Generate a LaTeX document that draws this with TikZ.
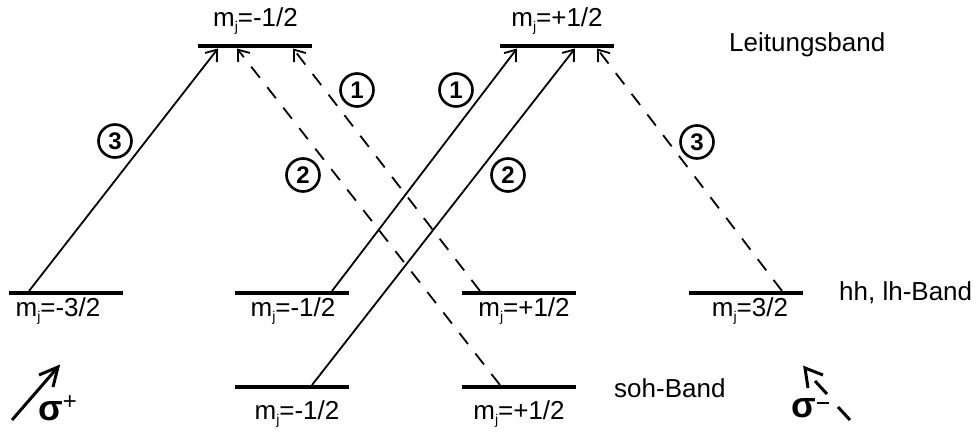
\documentclass[tikz,border=0pt]{standalone}
\usepackage{fontspec}
\setmainfont{Liberation Sans}
\usetikzlibrary{arrows.meta}
\newcommand{\mjlab}[1]{m\raisebox{-5pt}{\fontsize{14}{14}\selectfont j}#1}
\begin{document}
\begin{tikzpicture}[x=1pt,y=-1pt,
  levbox/.style={rectangle, fill=black, minimum width=114pt, minimum height=4.5pt, inner sep=0pt, outer sep=0pt},
  tr/.style={line width=1.8pt, -{Straight Barb[length=10pt,width=15pt,line width=1.8pt]}},
  dsh/.style={dash pattern=on 14pt off 12pt},
  lbl/.style={font=\fontsize{26}{26}\selectfont, inner sep=0pt},
  num/.style={circle, draw, line width=2.6pt, minimum size=33pt, inner sep=0pt, font=\fontsize{24}{24}\selectfont\bfseries},
  pol/.style={line width=3pt, line join=miter}]
\useasboundingbox (0,0) rectangle (978,434);
% levels
\node[levbox] (cbL) at (255,46) {};
\node[levbox] (cbR) at (556.5,46) {};
\node[levbox] (hh1) at (66,293) {};
\node[levbox] (hh2) at (291.5,293) {};
\node[levbox] (hh3) at (518.5,293) {};
\node[levbox] (hh4) at (746,293) {};
\node[levbox] (so1) at (291.5,387) {};
\node[levbox] (so2) at (518.5,387) {};
% level labels
\node[lbl] (tcbL) at (255.5,21) {\mjlab{=-1/2}};
\node[lbl] (tcbR) at (557,21) {\mjlab{=+1/2}};
\node[lbl] (thh1) at (58,311) {\mjlab{=-3/2}};
\node[lbl] (thh2) at (293,311) {\mjlab{=-1/2}};
\node[lbl] (thh3) at (524,311) {\mjlab{=+1/2}};
\node[lbl] (thh4) at (750,311) {\mjlab{=3/2}};
\node[lbl] (tso1) at (297,414) {\mjlab{=-1/2}};
\node[lbl] (tso2) at (519,414) {\mjlab{=+1/2}};
% band names
\node[lbl, anchor=west] (nLB) at (729,45) {Leitungsband};
\node[lbl, anchor=west] (nHH) at (839,293) {hh, lh-Band};
\node[lbl, anchor=west] (nSO) at (614,388) {soh-Band};
% transition endpoints
\coordinate (a3s) at (29,291);   \coordinate (a3e) at (218,48.5);
\coordinate (d1s) at (480,291);  \coordinate (d1e) at (293,48.5);
\coordinate (d2s) at (500,385);  \coordinate (d2e) at (237,48.5);
\coordinate (a1s) at (332,291);  \coordinate (a1e) at (517,48.5);
\coordinate (a2s) at (312,385);  \coordinate (a2e) at (575,48.5);
\coordinate (d3s) at (782,291);  \coordinate (d3e) at (597,48.5);
\draw[tr] (a3s) -- (a3e);
\draw[tr, dsh] (d1s) -- (d1e);
\draw[tr, dsh] (d2s) -- (d2e);
\draw[tr] (a1s) -- (a1e);
\draw[tr] (a2s) -- (a2e);
\draw[tr, dsh] (d3s) -- (d3e);
% circled numbers
\node[num] (n3L) at (115,141) {3};
\node[num] (n1a) at (357,90) {1};
\node[num] (n1b) at (456,90) {1};
\node[num] (n2a) at (303,175) {2};
\node[num] (n2b) at (508,175) {2};
\node[num] (n3R) at (697,142) {3};
% polarisation sigma+
\coordinate (pps) at (12,420); \coordinate (ppe) at (58,367);
\coordinate (ppb1) at (39,375); \coordinate (ppb2) at (53,387);
\draw[pol] (pps) -- (ppe);
\draw[pol] (ppb1) -- (ppe) -- (ppb2);
\node[inner sep=0pt, font=\fontsize{36}{36}\selectfont\bfseries] (sp) at (51,411) {σ};
\node[inner sep=0pt, font=\fontsize{24}{24}\selectfont] (spp) at (70,403) {+};
% polarisation sigma-
\coordinate (pms) at (850,420); \coordinate (pm1) at (838,407);
\coordinate (pm2) at (827,394); \coordinate (pm3) at (815,381);
\coordinate (pme) at (805,368);
\coordinate (pmb1) at (823,375); \coordinate (pmb2) at (808,388);
\draw[pol] (pms) -- (pm1);
\draw[pol] (pm2) -- (pm3);
\draw[pol] (pmb1) -- (pme) -- (pmb2);
\node[inner sep=0pt, font=\fontsize{36}{36}\selectfont\bfseries] (sm) at (804,408) {σ};
\coordinate (mm1) at (817,402.5); \coordinate (mm2) at (829,402.5);
\draw[line width=2pt] (mm1) -- (mm2);
\end{tikzpicture}
\end{document}
